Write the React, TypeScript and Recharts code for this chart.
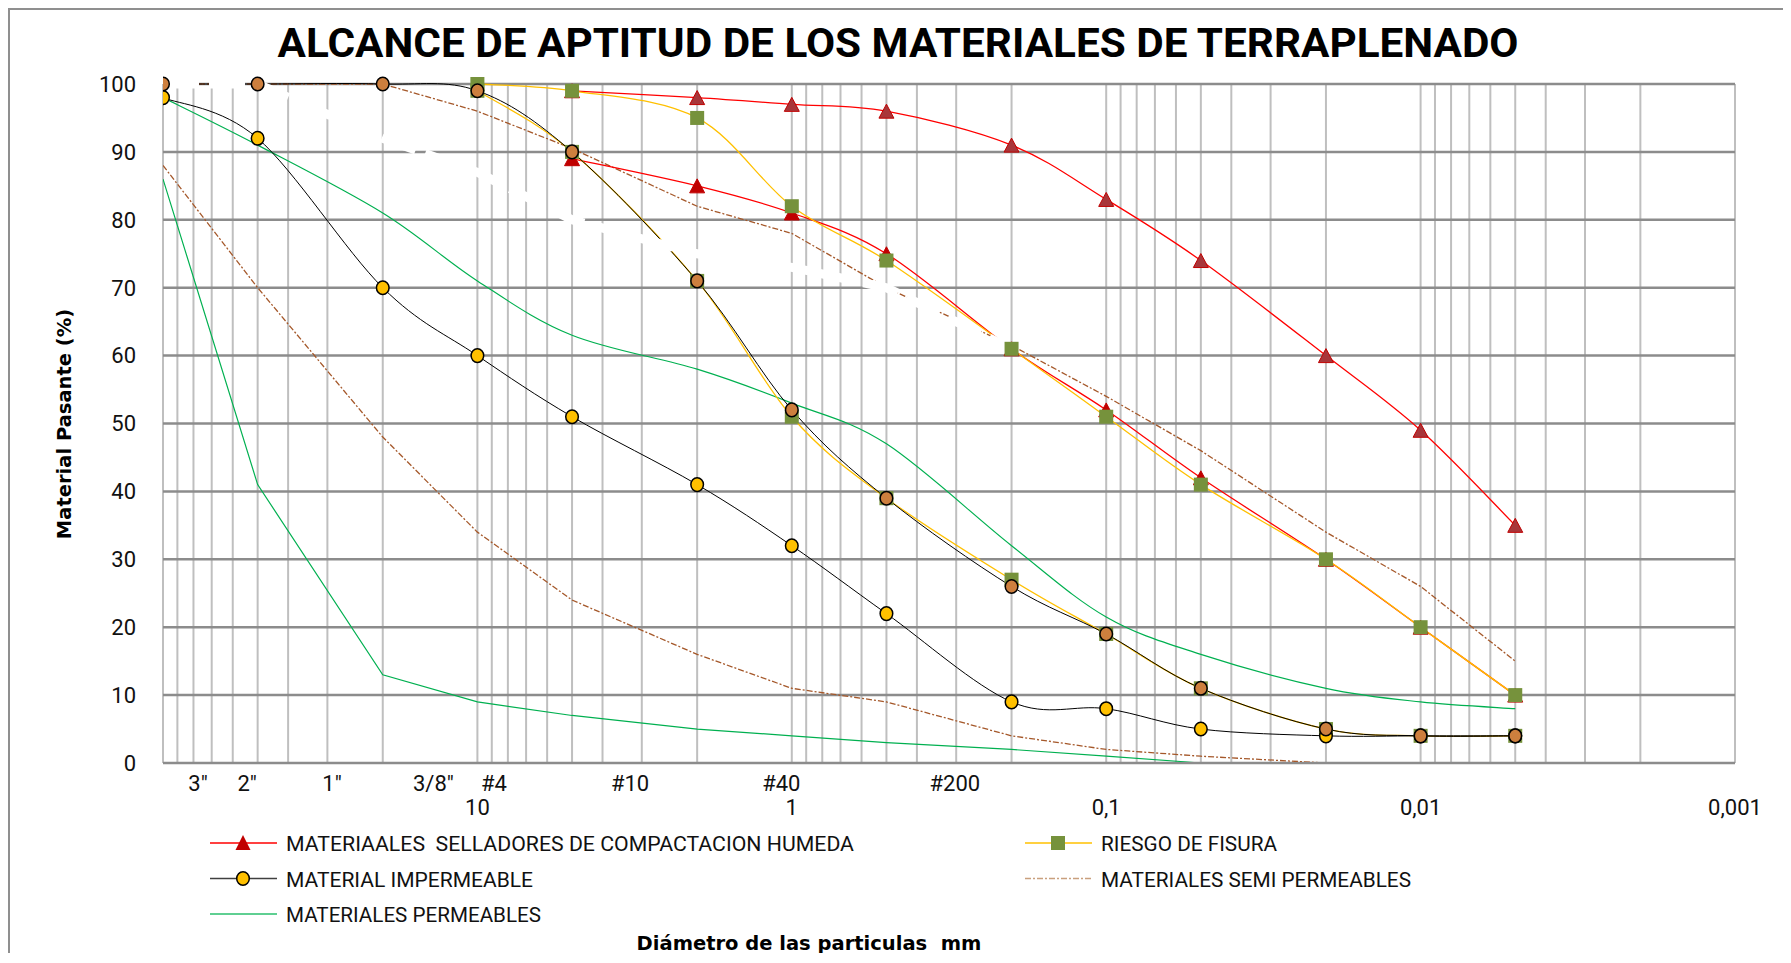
import React from "react";
import { LineChart, Line, XAxis, YAxis, CartesianGrid } from "recharts";

// tamaños de partícula (mm) donde se leen los puntos
const SIZES_MM = [100, 50, 20, 10, 5, 2, 1, 0.5, 0.2, 0.1, 0.05, 0.02, 0.01, 0.005];

const SELLADOR_ALTO = [null, null, null, null, 99, 98, 97, 96, 91, 83, 74, 60, 49, 35];
const SELLADOR_BAJO = [null, null, null, null, 89, 85, 81, 75, 61, 52, 42, 30, 20, 10];
const FISURA_ALTO = [null, null, null, 100, 99, 95, 82, 74, 61, 51, 41, 30, 20, 10];
const FISURA_BAJO = [null, null, null, 99, 90, 71, 51, 39, 27, 19, 11, 5, 4, 4];
const IMPERM_BAJO = [98, 92, 70, 60, 51, 41, 32, 22, 9, 8, 5, 4, 4, 4];
const IMPERM_ALTO = [100, 100, 100, 99, 90, 71, 52, 39, 26, 19, 11, 5, 4, 4];
const SEMI_ALTO = [100, 100, 100, 96, 90.5, 82, 78, 70, 61.5, 54, 46, 34, 26, 15];
const SEMI_BAJO = [88, 70, 48, 34, 24, 16, 11, 9, 4, 2, 1, 0, null, null];
const PERM_ALTO = [98, 91, 81, 71, 63, 58, 53, 47, 32, 21.5, 16, 11, 9, 8];
const PERM_BAJO = [86, 41, 13, 9, 7, 5, 4, 3, 2, 1, 0, 0, 0, 0];
// trazo blanco discontinuo que cruza la rejilla en el original
const TRAZO_BLANCO = [100, 100, 92, 87, 80, 75, 73, 70, 61, null, null, null, null, null];

const Y_TICKS = [0, 10, 20, 30, 40, 50, 60, 70, 80, 90, 100];
const MM_TICKS = [10, 1, 0.1, 0.01, 0.001];
const MM_TICK_LABELS = ["10", "1", "0,1", "0,01", "0,001"];
const SIEVE_POS = [77.4, 54, 29, 13.8, 8.86, 3.27, 1.08, 0.303];
const SIEVE_LABELS = ['3"', '2"', '1"', '3/8"', "#4", "#10", "#40", "#200"];

const GRID_MM: number[] = [100];
[1, 0, -1, -2, -3].forEach((e) => {
  for (let k = 9; k >= 1; k--) GRID_MM.push(+(k * Math.pow(10, e)).toPrecision(3));
});

const RED = "#FF0000";
const GOLD = "#FFC000";
const OLIVE = "#76923C";
const BROWN = "#A5582A";
const GREEN = "#00B050";

// suavizado tipo Excel (Catmull-Rom)
function excelSmooth(context: any) {
  let pts: number[][] = [];
  return {
    areaStart() {},
    areaEnd() {},
    lineStart() {
      pts = [];
    },
    point(x: number, y: number) {
      pts.push([+x, +y]);
    },
    lineEnd() {
      const n = pts.length;
      if (!n) return;
      context.moveTo(pts[0][0], pts[0][1]);
      for (let i = 0; i < n - 1; i++) {
        const p0 = pts[i > 0 ? i - 1 : i];
        const p1 = pts[i];
        const p2 = pts[i + 1];
        const p3 = pts[i + 2 < n ? i + 2 : i + 1];
        context.bezierCurveTo(
          p1[0] + (p2[0] - p0[0]) / 6,
          p1[1] + (p2[1] - p0[1]) / 6,
          p2[0] - (p3[0] - p1[0]) / 6,
          p2[1] - (p3[1] - p1[1]) / 6,
          p2[0],
          p2[1]
        );
      }
    },
  };
}

const triangle = (fill: string) => (p: any) => {
  const k = `t${p.index}`;
  if (p.cx == null || p.cy == null || p.value == null) return <g key={k} />;
  const { cx, cy } = p;
  return (
    <path
      key={k}
      d={`M${cx},${cy - 7}L${cx + 7.5},${cy + 7}L${cx - 7.5},${cy + 7}Z`}
      fill={fill}
      stroke="#C00000"
      strokeWidth={1}
    />
  );
};

const square = (p: any) => {
  const k = `s${p.index}`;
  if (p.cx == null || p.cy == null || p.value == null) return <g key={k} />;
  return <rect key={k} x={p.cx - 7} y={p.cy - 7} width={14} height={14} fill={OLIVE} />;
};

const circle = (fill: string) => (p: any) => {
  const k = `c${p.index}`;
  if (p.cx == null || p.cy == null || p.value == null) return <g key={k} />;
  return <ellipse key={k} cx={p.cx} cy={p.cy} rx={6.3} ry={6.8} fill={fill} stroke="#000" strokeWidth={1.5} />;
};

function XTick(props: any) {
  const { x, y, payload } = props;
  const v = payload?.value;
  const si = SIEVE_POS.indexOf(v);
  const style = { fontSize: 22, fontFamily: "Roboto", fill: "#111" };
  if (si >= 0) {
    return (
      <text x={x} y={y + 20} textAnchor="middle" dominantBaseline="central" style={style}>
        {SIEVE_LABELS[si]}
      </text>
    );
  }
  const mi = MM_TICKS.indexOf(v);
  return (
    <text x={x} y={y + 44} textAnchor="middle" dominantBaseline="central" style={style}>
      {MM_TICK_LABELS[mi]}
    </text>
  );
}

const LEGEND_LEFT = [
  { name: "MATERIAALES  SELLADORES DE COMPACTACION HUMEDA", kind: "tri", width: 568 },
  { name: "MATERIAL IMPERMEABLE", kind: "circ", width: 247 },
  { name: "MATERIALES PERMEABLES", kind: "green", width: 255 },
];
const LEGEND_RIGHT = [
  { name: "RIESGO DE FISURA", kind: "sq", width: 176 },
  { name: "MATERIALES SEMI PERMEABLES", kind: "semi", width: 310 },
];

function LegendRow({ x, y, item }: { x: number; y: number; item: any }) {
  const mx = x + 33;
  let line = <line x1={x} x2={x + 67} y1={y} y2={y} stroke="#404040" strokeWidth={1.5} />;
  let mark: React.ReactNode = null;
  if (item.kind === "tri") {
    line = <line x1={x} x2={x + 67} y1={y} y2={y} stroke={RED} strokeWidth={1.5} />;
    mark = <path d={`M${mx},${y - 8}L${mx + 7.5},${y + 7}L${mx - 7.5},${y + 7}Z`} fill="#C00000" />;
  } else if (item.kind === "circ") {
    mark = <ellipse cx={mx} cy={y} rx={6.3} ry={6.8} fill={GOLD} stroke="#000" strokeWidth={1.5} />;
  } else if (item.kind === "green") {
    line = <line x1={x} x2={x + 67} y1={y} y2={y} stroke="#5fcf92" strokeWidth={2} />;
  } else if (item.kind === "sq") {
    line = <line x1={x} x2={x + 67} y1={y} y2={y} stroke={GOLD} strokeWidth={1.5} />;
    mark = <rect x={mx - 7} y={y - 7} width={14} height={14} fill={OLIVE} />;
  } else if (item.kind === "semi") {
    line = <line x1={x} x2={x + 67} y1={y} y2={y} stroke="#C9A07E" strokeWidth={1.5} strokeDasharray="6 2 2 2" />;
  }
  return (
    <g>
      {line}
      {mark}
      <text
        x={x + 76}
        y={y + 8}
        textLength={item.width}
        lengthAdjust="spacingAndGlyphs"
        style={{ fontSize: 21, fontFamily: "Roboto", fill: "#111", whiteSpace: "pre" }}
      >
        {item.name}
      </text>
    </g>
  );
}

export default function App() {
  const rows = SIZES_MM.map((mm, i) => ({
    mm,
    selladorAlto: SELLADOR_ALTO[i],
    selladorBajo: SELLADOR_BAJO[i],
    fisuraAlto: FISURA_ALTO[i],
    fisuraBajo: FISURA_BAJO[i],
    impermBajo: IMPERM_BAJO[i],
    impermAlto: IMPERM_ALTO[i],
    semiAlto: SEMI_ALTO[i],
    semiBajo: SEMI_BAJO[i],
    permAlto: PERM_ALTO[i],
    permBajo: PERM_BAJO[i],
    blanco: TRAZO_BLANCO[i],
  }));

  const common = { isAnimationActive: false, activeDot: false, legendType: "none" as const };

  return (
    <div style={{ position: "relative", width: 1779, height: 955, marginBottom: -10 }}>
      <div style={{ position: "absolute", left: 0, top: 0 }}>
        <LineChart width={1775} height={830} data={rows} margin={{ top: 76, right: 48, bottom: 0, left: 95 }}>
          <CartesianGrid horizontal={false} verticalValues={GRID_MM} stroke="#bfbfbf" strokeWidth={2} />
          <CartesianGrid vertical={false} stroke="#8c8c8c" strokeWidth={2.5} />
          <XAxis
            dataKey="mm"
            type="number"
            scale="log"
            domain={[0.001, 100]}
            reversed
            allowDataOverflow
            ticks={[...SIEVE_POS, ...MM_TICKS]}
            interval={0}
            tick={XTick}
            tickLine={false}
            tickSize={0}
            tickMargin={0}
            axisLine={{ stroke: "#8c8c8c", strokeWidth: 2 }}
            height={75}
          />
          <YAxis
            type="number"
            domain={[0, 100]}
            ticks={Y_TICKS}
            interval={0}
            width={60}
            axisLine={false}
            tickLine={false}
            tickSize={0}
            tickMargin={27}
            tick={{ fontSize: 22, fill: "#111", fontFamily: "Roboto" }}
          />

          {/* trazos */}
          <Line {...common} dataKey="permAlto" type={excelSmooth as any} stroke={GREEN} strokeWidth={1.2} dot={false} />
          <Line {...common} dataKey="permBajo" type="linear" stroke={GREEN} strokeWidth={1.2} dot={false} />
          <Line {...common} dataKey="semiAlto" type="linear" stroke={BROWN} strokeWidth={1.3} strokeDasharray="6 2 2 2" dot={false} />
          <Line {...common} dataKey="semiBajo" type="linear" stroke={BROWN} strokeWidth={1.3} strokeDasharray="6 2 2 2" dot={false} />
          <Line {...common} dataKey="selladorAlto" type={excelSmooth as any} stroke={RED} strokeWidth={1.3} dot={false} />
          <Line {...common} dataKey="selladorBajo" type={excelSmooth as any} stroke={RED} strokeWidth={1.3} dot={false} />
          <Line {...common} dataKey="fisuraAlto" type={excelSmooth as any} stroke={GOLD} strokeWidth={1.3} dot={false} />
          <Line {...common} dataKey="fisuraBajo" type={excelSmooth as any} stroke={GOLD} strokeWidth={1.3} dot={false} />
          <Line {...common} dataKey="impermBajo" type={excelSmooth as any} stroke="#000" strokeWidth={1} dot={false} />
          <Line {...common} dataKey="impermAlto" type={excelSmooth as any} stroke="#000" strokeWidth={1} dot={false} />
          <Line {...common} dataKey="blanco" type="linear" stroke="#fff" strokeWidth={9} strokeDasharray="36 10" dot={false} />

          {/* marcadores */}
          <Line {...common} dataKey="selladorAlto" stroke="none" dot={triangle("#A8363A")} />
          <Line {...common} dataKey="selladorBajo" stroke="none" dot={triangle("#C00000")} />
          <Line {...common} dataKey="fisuraAlto" stroke="none" dot={square} />
          <Line {...common} dataKey="fisuraBajo" stroke="none" dot={square} />
          <Line {...common} dataKey="impermBajo" stroke="none" dot={circle(GOLD)} />
          <Line {...common} dataKey="impermAlto" stroke="none" dot={circle("#CD7F3E")} />
        </LineChart>
      </div>
      <svg
        width={1779}
        height={955}
        style={{ position: "absolute", left: 0, top: 0, pointerEvents: "none" }}
      >
        <text
          x={890}
          y={49}
          textAnchor="middle"
          textLength={1241}
          lengthAdjust="spacingAndGlyphs"
          style={{ fontSize: 40, fontWeight: 700, fontFamily: "Roboto", fill: "#000" }}
        >
          ALCANCE DE APTITUD DE LOS MATERIALES DE TERRAPLENADO
        </text>
        <text
          transform="translate(56,416) rotate(-90)"
          textAnchor="middle"
          dominantBaseline="central"
          style={{ fontSize: 19.5, fontWeight: 700, fontFamily: "DejaVu Sans", fill: "#000" }}
        >
          Material Pasante (%)
        </text>
        <text
          x={801}
          y={942}
          textAnchor="middle"
          style={{ fontSize: 19.5, fontWeight: 700, fontFamily: "DejaVu Sans", fill: "#000", whiteSpace: "pre" }}
        >
          Diámetro de las particulas  mm
        </text>
        {LEGEND_LEFT.map((it, i) => (
          <LegendRow key={it.name} x={202} y={835 + i * 35.5} item={it} />
        ))}
        {LEGEND_RIGHT.map((it, i) => (
          <LegendRow key={it.name} x={1017} y={835 + i * 35.5} item={it} />
        ))}
        {/* marco exterior */}
        <path d="M1,955 L1,1 L1776.5,1 L1776.5,955" fill="none" stroke="#8f8f8f" strokeWidth={2} />
      </svg>
    </div>
  );
}
